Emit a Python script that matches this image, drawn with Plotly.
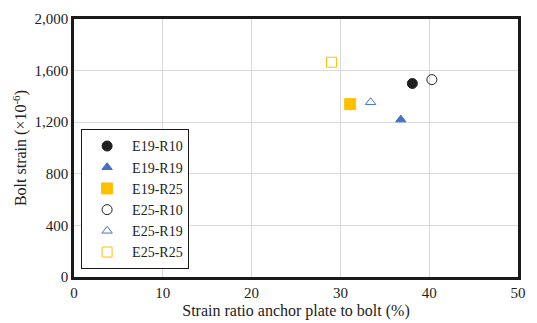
import plotly.graph_objects as go

series_names = ["E19-R10", "E19-R19", "E19-R25", "E25-R10", "E25-R19", "E25-R25"]
x_values = [38.1, 36.8, 31.1, 40.3, 33.4, 29.0]
y_values = [1500, 1220, 1340, 1530, 1355, 1665]
symbols = ["circle", "triangle-up", "square", "circle-open", "triangle-up-open", "square-open"]
colors = ["#1f1f1f", "#4472C4", "#FFC000", "#1f1f1f", "#4472C4", "#FFC000"]
sizes = [10, 9, 11, 10, 9, 10]

x_ticks = [0, 10, 20, 30, 40, 50]
y_ticks = [0, 400, 800, 1200, 1600, 2000]
y_tick_labels = ["0", "400", "800", "1,200", "1,600", "2,000"]

fig = go.Figure()
for name, x, y, s, c, sz in zip(series_names, x_values, y_values, symbols, colors, sizes):
    fig.add_trace(go.Scatter(
        x=[x], y=[y], mode="markers", name=name,
        marker=dict(symbol=s, color=c, size=sz, line=dict(color=c, width=1)),
    ))

font = "Liberation Serif, Times New Roman, serif"
fig.update_layout(
    width=537, height=323,
    margin=dict(l=74, r=19, t=19, b=46),
    paper_bgcolor="white", plot_bgcolor="white",
    font=dict(family=font, size=15, color="#222"),
    xaxis=dict(
        range=[0, 50], tickvals=x_ticks, showgrid=True, gridcolor="#d9d9d9", gridwidth=1,
        showline=True, linecolor="#1a1a1a", linewidth=2.5, mirror=True, zeroline=False,
        ticks="", tickfont=dict(size=15), automargin=False,
        title=dict(text="Strain ratio anchor plate to bolt (%)", font=dict(size=16), standoff=6),
    ),
    yaxis=dict(
        range=[0, 2000], tickvals=y_ticks, ticktext=y_tick_labels, showgrid=True,
        gridcolor="#d9d9d9", gridwidth=1, automargin=False,
        showline=True, linecolor="#1a1a1a", linewidth=2.5, mirror=True, zeroline=False,
        ticks="", tickfont=dict(size=15),
        title=dict(text="Bolt strain (×10<sup>-6</sup>)", font=dict(size=16), standoff=4),
    ),
    legend=dict(
        x=0.016, y=0.572, xanchor="left", yanchor="top",
        bordercolor="#1a1a1a", borderwidth=1, bgcolor="white",
        font=dict(size=14), tracegroupgap=0, itemwidth=40,
    ),
    showlegend=True,
)

fig.write_html("out.html")
